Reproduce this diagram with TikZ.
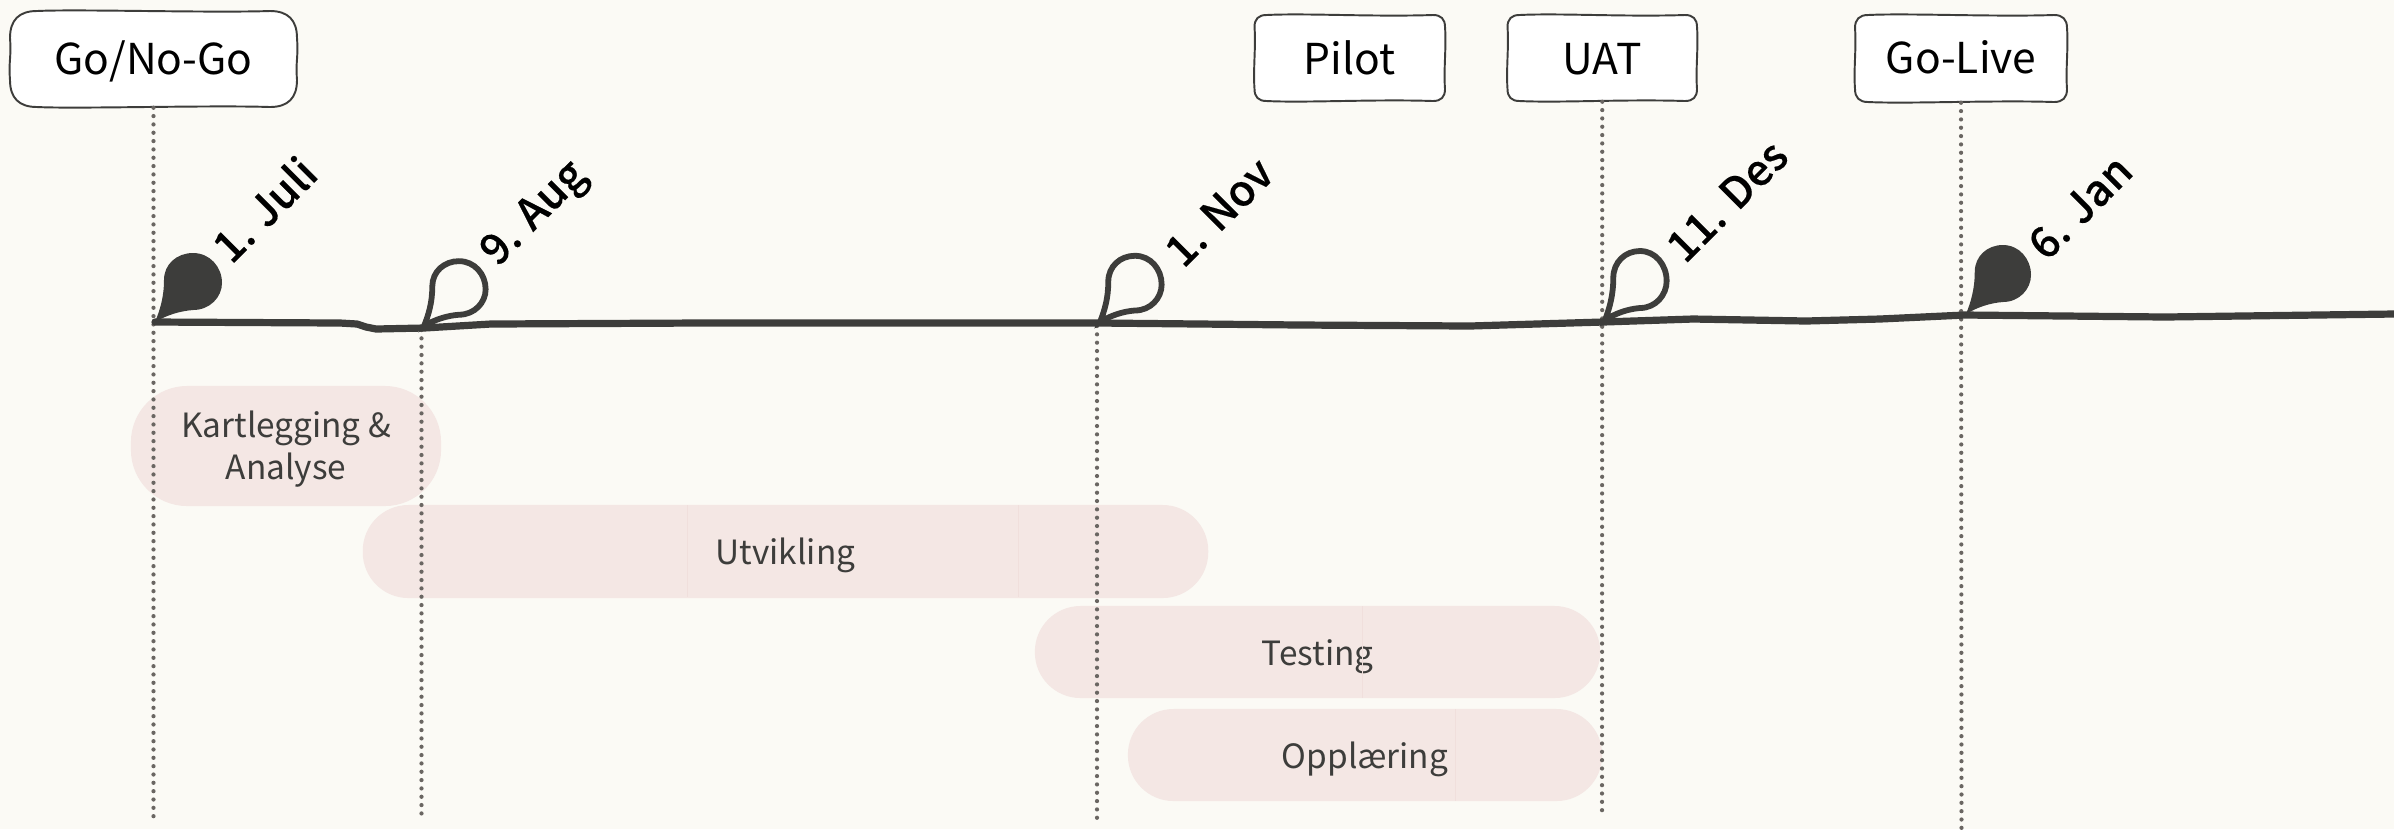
\documentclass[tikz,border=0pt]{standalone}
\usepackage{fontspec}
\setmainfont{Noto Sans CJK SC}
\newfontfamily\datefont[FakeBold=0.35]{Noto Sans CJK SC Medium}
\definecolor{paper}{HTML}{FBFAF5}
\definecolor{ink}{HTML}{3D3D3B}
\definecolor{pillc}{HTML}{F4E7E4}
\definecolor{seam}{HTML}{F0DFDC}
\definecolor{dotc}{HTML}{6A6662}
\tikzset{
  boxlabel/.style={inner sep=0pt,font=\fontsize{12.1}{14}\selectfont,text=black},
  boxedge/.style={draw=ink,line width=0.55pt,fill=white},
  pill/.style={fill=pillc,draw=none,inner sep=0pt,align=center,text=ink,font=\fontsize{9.5}{12.2}\selectfont},
  guide/.style={draw=dotc,line width=1.2pt,line cap=round,dash pattern=on 0pt off 2.37pt},
  axis/.style={draw=ink,line width=2.05pt,line join=round,line cap=round},
  datelabel/.style={rotate=45,inner sep=0pt,text=black,font=\datefont\fontsize{12.2}{14}\selectfont},
  dropfull/.style={fill=ink,draw=none},
  drophollow/.style={draw=ink,line width=1.65pt,fill=none,line join=miter},
  seamline/.style={draw=seam,line width=0.25pt}
}
\newcommand{\drop}[5]{%
  \begin{scope}[shift={(#2,#3)},xscale=#4,yscale=#5]
  \draw[#1] (0,0) .. controls (5,-12) and (9,-25) .. (9,-42)
     .. controls (9,-58) and (22,-69) .. (38,-69)
     .. controls (55,-69) and (67,-55) .. (67,-39)
     .. controls (67,-25) and (55,-12) .. (38,-12)
     .. controls (25,-11) and (12,-7) .. (0,0) -- cycle;
  \end{scope}}
\newcommand{\handbox}[5]{% x1 y1 x2 y2 radius
  \draw[boxedge] (#1+#5,#2) .. controls (#1+#5+40,#2-2) and (#3-#5-60,#2+2) .. (#3-#5,#2)
    .. controls (#3-#5/3,#2) and (#3,#2+#5/3) .. (#3,#2+#5)
    .. controls (#3+1.5,#2+#5+20) and (#3-1.5,#4-#5-20) .. (#3,#4-#5)
    .. controls (#3,#4-#5/3) and (#3-#5/3,#4) .. (#3-#5,#4)
    .. controls (#3-#5-60,#4-2) and (#1+#5+40,#4+2) .. (#1+#5,#4)
    .. controls (#1+#5/3,#4) and (#1,#4-#5/3) .. (#1,#4-#5)
    .. controls (#1-1.5,#4-#5-20) and (#1+1.5,#2+#5+20) .. (#1,#2+#5)
    .. controls (#1,#2+#5/3) and (#1+#5/3,#2) .. (#1+#5,#2) -- cycle;}
\newcommand{\bl}[2]{\raisebox{-#1}[0pt][0pt]{#2}}
\begin{document}
\begin{tikzpicture}[x=0.01cm,y=-0.01cm]
\useasboundingbox (0,0) rectangle (2394,829);
\fill[paper] (0,0) rectangle (2394,829);

% phase pills
\node[pill,rounded corners=16pt,minimum width=3.10cm,minimum height=1.20cm] (kart) at (286,446) {\bl{3.55pt}{Kartlegging \&}\\\bl{3.55pt}{Analyse}};
\node[pill,rounded corners=13pt,minimum width=8.45cm,minimum height=0.93cm] (utv) at (785.5,551.5) {\bl{3.7pt}{Utvikling}};
\node[pill,rounded corners=13pt,minimum width=5.65cm,minimum height=0.92cm] (test) at (1317.5,652) {\bl{3.7pt}{Testing}};
\node[pill,rounded corners=13pt,minimum width=4.74cm,minimum height=0.92cm] (opp) at (1365,755) {\bl{3.7pt}{Opplæring}};
\draw[seamline] (687,505) -- (687,597);
\draw[seamline] (1018,505) -- (1018,597);
\draw[seamline] (1362,606) -- (1362,698);
\draw[seamline] (1455,709) -- (1455,801);

% milestone boxes
\handbox{10}{11}{297}{107}{27}
\handbox{1254.5}{15}{1445}{101}{12}
\handbox{1507.5}{15}{1697}{101}{12}
\handbox{1855}{15}{2067}{102}{13}
\node[boxlabel,minimum width=2.87cm,minimum height=0.96cm] (gonogo) at (153.5,59) {\bl{4.3pt}{Go/No-Go}};
\node[boxlabel,minimum width=1.905cm,minimum height=0.86cm] (pilot) at (1349.75,58) {\bl{4.55pt}{Pilot}};
\node[boxlabel,minimum width=1.895cm,minimum height=0.86cm] (uat) at (1602.25,58) {\bl{4.55pt}{UAT}};
\node[boxlabel,minimum width=2.12cm,minimum height=0.87cm] (golive) at (1961,58.5) {\bl{4.4pt}{Go-Live}};

% free ends and tips
\coordinate (e1) at (153.5,820);
\coordinate (t2) at (421.5,330);
\coordinate (e2) at (421.5,820);
\coordinate (t3) at (1097,326);
\coordinate (e3) at (1097,820);
\coordinate (e4) at (1602,815);
\coordinate (e5) at (1961.5,829);

% guides
\draw[guide] (gonogo.south) -- (e1);
\draw[guide] (t2) -- (e2);
\draw[guide] (t3) -- (e3);
\draw[guide] (uat.south) -- (e4);
\draw[guide] (golive.south) -- (e5);

% axis
\draw[axis] plot coordinates {(155,322) (340,323) (357,324) (366,327) (376,329) (424,328) (491,324) (700,323) (1099,323) (1300,325) (1470,326) (1603,322) (1693,319) (1806,321) (1880,319) (1965,315) (2165,317) (2394,314)};

% drops
\drop{dropfull}{155}{322}{1}{1}
\drop{drophollow}{424}{326}{.92}{.94}
\drop{drophollow}{1100}{322}{.92}{.96}
\drop{drophollow}{1605}{320}{.92}{1}
\drop{dropfull}{1966}{314}{.97}{1}

% dates
\node[datelabel] (d1) at (264,209) {1. Juli};
\node[datelabel] (d2) at (535.5,215) {9. Aug};
\node[datelabel] (d3) at (1219,212) {1. Nov};
\node[datelabel] (d4) at (1727,201) {11. Des};
\node[datelabel] (d5) at (2080,207) {6. Jan};
\end{tikzpicture}
\end{document}
